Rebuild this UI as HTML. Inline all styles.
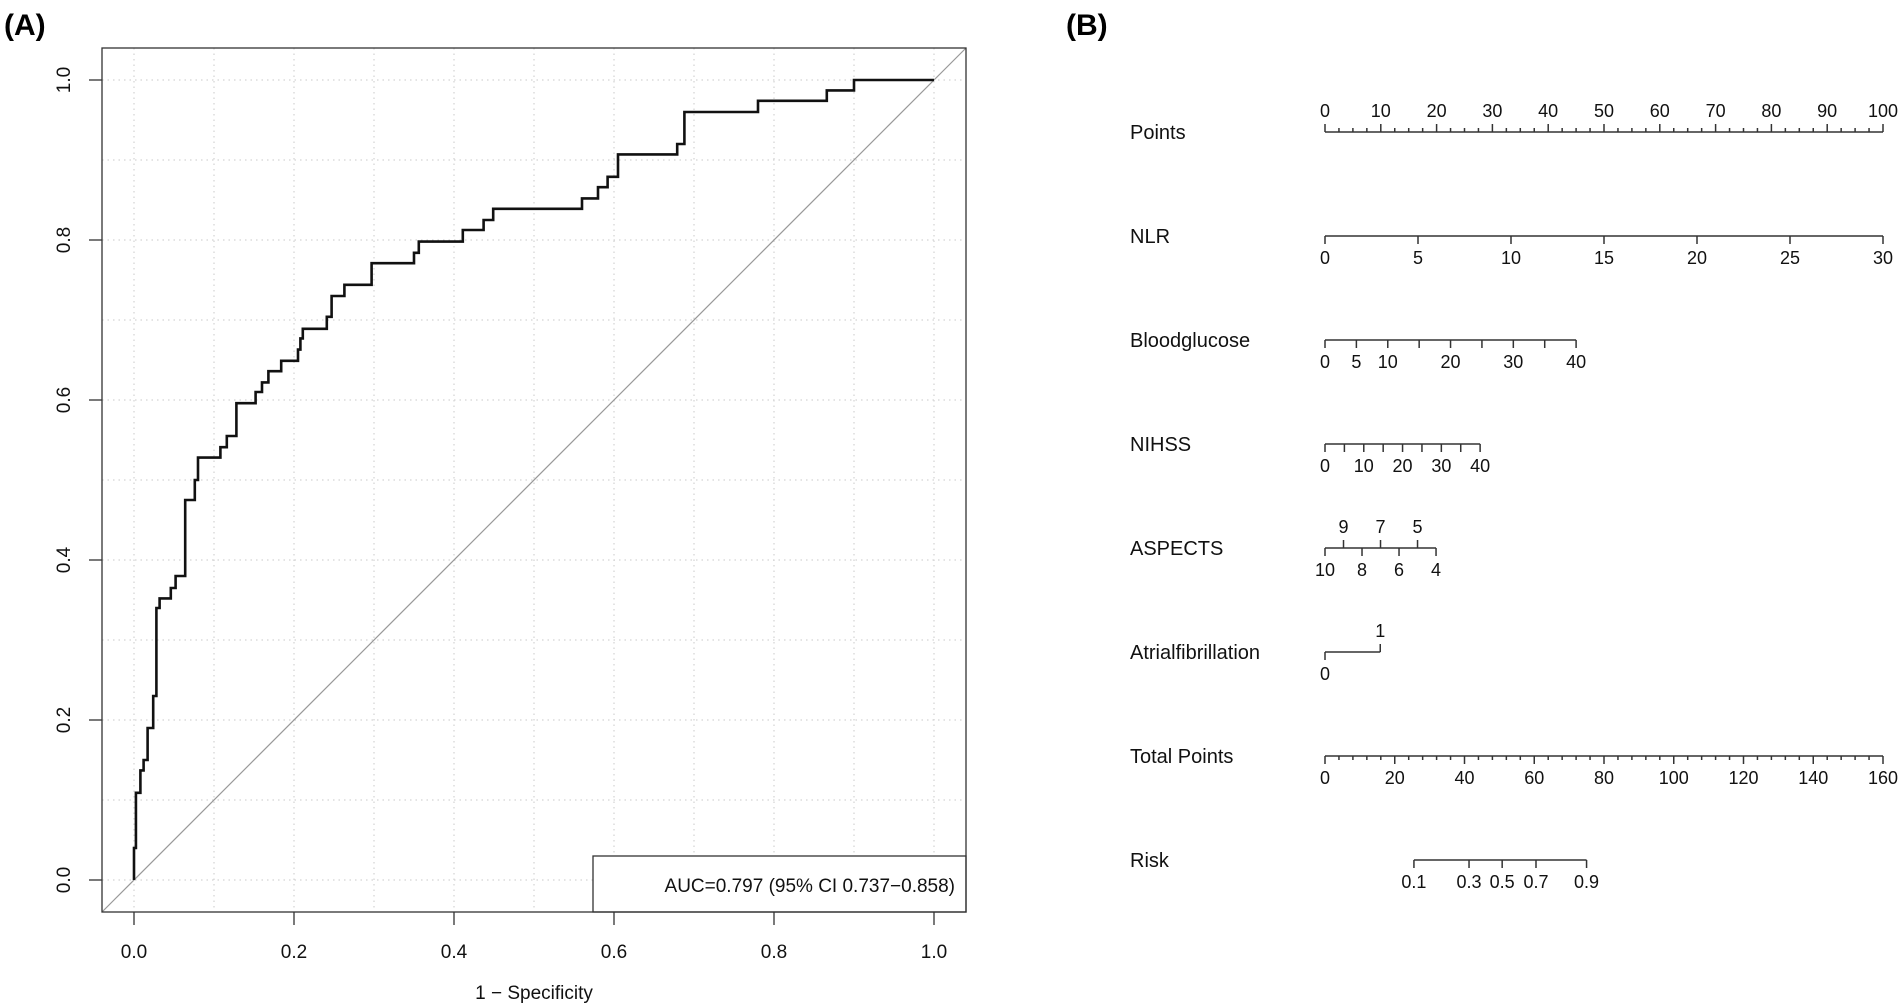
<!DOCTYPE html>
<html><head><meta charset="utf-8"><style>
body{margin:0;background:#fff;}
svg{display:block;font-family:"Liberation Sans",Arial,sans-serif;}
</style></head><body>
<svg id="fig" width="1902" height="1007" viewBox="0 0 1902 1007">
<text x="4" y="35" font-size="30" font-weight="bold">(A)</text>
<text x="1066" y="35" font-size="30" font-weight="bold">(B)</text>
<g id="roc"></g>
<g id="nomo"></g>
</svg>
<script>
// ROC data
const fpr = [0,0.0024,0.008,0.012,0.017,0.024,0.028,0.032,0.046,0.052,0.064,0.076,0.08,0.108,0.116,0.128,0.152,0.16,0.168,0.184,0.205,0.208,0.211,0.241,0.247,0.263,0.297,0.35,0.356,0.411,0.437,0.449,0.56,0.58,0.592,0.605,0.679,0.688,0.78,0.866,0.9,1.0];
const tpr = [0.04,0.109,0.137,0.15,0.19,0.23,0.34,0.352,0.365,0.38,0.475,0.5,0.528,0.541,0.555,0.596,0.61,0.622,0.636,0.649,0.663,0.677,0.689,0.704,0.73,0.744,0.771,0.784,0.798,0.8125,0.825,0.839,0.852,0.866,0.879,0.907,0.92,0.96,0.974,0.987,1.0,1.0];
const xTicks = [0,0.2,0.4,0.6,0.8,1.0];
const yTicks = [0,0.2,0.4,0.6,0.8,1.0];
const gridVals = [0,0.1,0.2,0.3,0.4,0.5,0.6,0.7,0.8,0.9,1.0];
const aucText = "AUC=0.797 (95% CI 0.737\u22120.858)";

const NS="http://www.w3.org/2000/svg";
function mk(parent,tag,attrs,text){const e=document.createElementNS(NS,tag);for(const k in attrs)e.setAttribute(k,attrs[k]);if(text!==undefined)e.textContent=text;parent.appendChild(e);return e;}
const X0=134,X1=934,Y0=880,Y1=80;
const sx=v=>X0+v*(X1-X0), sy=v=>Y0-v*(Y0-Y1);
const roc=document.getElementById('roc');
const BL=102,BR=966,BT=48,BB=912;
gridVals.forEach(v=>{
 let g=mk(roc,'line',{x1:sx(v),x2:sx(v),y1:BT,y2:BB,stroke:'#d3d3d3','stroke-dasharray':'1.5,4','stroke-width':1.2});
 
 let h=mk(roc,'line',{x1:BL,x2:BR,y1:sy(v),y2:sy(v),stroke:'#d3d3d3','stroke-dasharray':'1.5,4','stroke-width':1.2});
 
});
let dg=mk(roc,'line',{x1:BL,y1:BB,x2:BR,y2:BB-(BR-BL)*(Y0-Y1)/(X1-X0),stroke:'#999','stroke-width':1.2});

let d=`M${sx(0)},${sy(0)}`;
let cy=sy(0);
for(let i=0;i<fpr.length;i++){d+=` L${sx(fpr[i])},${cy}`;cy=sy(tpr[i]);d+=` L${sx(fpr[i])},${cy}`;}
let cv=mk(roc,'path',{d:d,fill:'none',stroke:'#111','stroke-width':2.6});

let lg=mk(roc,'rect',{x:593,y:856,width:BR-593,height:BB-856,fill:'#fff',stroke:'#333','stroke-width':1.3});

let lt=mk(roc,'text',{x:955,y:892,'font-size':19,'text-anchor':'end',fill:'#111'},aucText);

let bx=mk(roc,'rect',{x:BL,y:BT,width:BR-BL,height:BB-BT,fill:'none',stroke:'#333','stroke-width':1.3});

xTicks.forEach(v=>{
 let t=mk(roc,'line',{x1:sx(v),x2:sx(v),y1:BB,y2:BB+13,stroke:'#333','stroke-width':1.3});
 
 let l=mk(roc,'text',{x:sx(v),y:958,'font-size':19,'text-anchor':'middle',fill:'#111'},v.toFixed(1));
 
});
yTicks.forEach(v=>{
 let t=mk(roc,'line',{x1:BL-13,x2:BL,y1:sy(v),y2:sy(v),stroke:'#333','stroke-width':1.3});
 
 let l=mk(roc,'text',{x:0,y:0,'font-size':19,'text-anchor':'middle',fill:'#111',transform:`translate(70,${sy(v)}) rotate(-90)`},v.toFixed(1));
 
});
let xt=mk(roc,'text',{x:(X0+X1)/2,y:999,'font-size':19,'text-anchor':'middle',fill:'#111'},"1 \u2212 Specificity");


// Nomogram data
const rowNames = ["Points","NLR","Bloodglucose","NIHSS","ASPECTS","Atrialfibrillation","Total Points","Risk"];
const pointsTicks = [0,10,20,30,40,50,60,70,80,90,100];
const nlrVals = [0,5,10,15,20,25,30];
const bgVals = [0,5,10,15,20,25,30,35,40];
const bgLabels = ["0","5","10","","20","","30","","40"];
const nihssVals = [0,5,10,15,20,25,30,35,40];
const nihssLabels = ["0","","10","","20","","30","","40"];
const aspVals = [10,9,8,7,6,5,4];
const afVals = [0,1];
const totalTicks = [0,20,40,60,80,100,120,140,160];
const riskVals = [0.1,0.3,0.5,0.7,0.9];
const riskTotalPts = [25.5,41.3,50.8,60.5,75];
const nlrMaxPts = 100, bgMaxPts = 45, nihssMaxPts = 27.8, aspMaxPts = 19.9, afMaxPts = 9.9;

const nomo=document.getElementById('nomo');
const A0=1325,A1=1883,R0=132,RS=104;
const px=p=>A0+p/100*(A1-A0);
const tx=t=>A0+t/160*(A1-A0);
rowNames.forEach((n,i)=>{
 let t=mk(nomo,'text',{x:1130,y:R0+RS*i+7,'font-size':20,fill:'#111'},n);
 
});
function axisLine(y,xa,xb,name){let l=mk(nomo,'line',{x1:xa,x2:xb,y1:y,y2:y,stroke:'#333','stroke-width':1.6});}
function tick(x,y,len,up){let l=mk(nomo,'line',{x1:x,x2:x,y1:y,y2:up?y-len:y+len,stroke:'#333','stroke-width':1.5});}
function lab(x,y,s,up){if(s==="")return;let l=mk(nomo,'text',{x:x,y:up?y-15:y+28,'font-size':18,'text-anchor':'middle',fill:'#111'},s);}
let y=R0;axisLine(y,px(0),px(100),'points-axis');
for(let p=0;p<=100;p+=2.5){tick(px(p),y,p%10===0?8:4,true);}
pointsTicks.forEach(p=>lab(px(p),y,String(p),true));
y=R0+RS;axisLine(y,px(0),px(nlrMaxPts),'nlr-axis');
nlrVals.forEach(v=>{const x=px(v/30*nlrMaxPts);tick(x,y,8,false);lab(x,y,String(v),false);});
y=R0+2*RS;axisLine(y,px(0),px(bgMaxPts),'bloodglucose-axis');
bgVals.forEach((v,i)=>{const x=px(v/40*bgMaxPts);tick(x,y,8,false);lab(x,y,bgLabels[i],false);});
y=R0+3*RS;axisLine(y,px(0),px(nihssMaxPts),'nihss-axis');
nihssVals.forEach((v,i)=>{const x=px(v/40*nihssMaxPts);tick(x,y,8,false);lab(x,y,nihssLabels[i],false);});
y=R0+4*RS;axisLine(y,px(0),px(aspMaxPts),'aspects-axis');
aspVals.forEach((v,i)=>{const x=px((10-v)/6*aspMaxPts);const up=(v%2===1);tick(x,y,8,up);lab(x,y,String(v),up);});
y=R0+5*RS;axisLine(y,px(0),px(afMaxPts),'af-axis');
afVals.forEach(v=>{const x=px(v*afMaxPts);const up=v===1;tick(x,y,8,up);lab(x,y,String(v),up);});
y=R0+6*RS;axisLine(y,tx(0),tx(160),'total-points-axis');
for(let t=0;t<=160;t+=4){tick(tx(t),y,t%20===0?8:4,false);}
totalTicks.forEach(t=>lab(tx(t),y,String(t),false));
y=R0+7*RS;axisLine(y,tx(riskTotalPts[0]),tx(riskTotalPts[riskTotalPts.length-1]),'risk-axis');
riskVals.forEach((v,i)=>{const x=tx(riskTotalPts[i]);tick(x,y,8,false);lab(x,y,v.toFixed(1),false);});
</script>
</body></html>
